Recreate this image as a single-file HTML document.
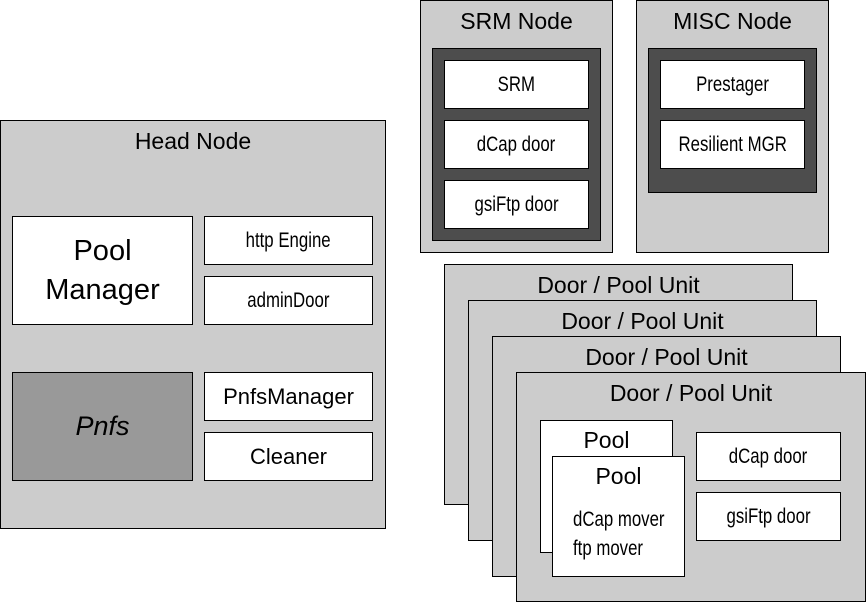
<!DOCTYPE html>
<html><head><meta charset="utf-8"><style>
body{margin:0;width:866px;height:602px;background:#fff;position:relative;overflow:hidden;font-family:"Liberation Sans",sans-serif;}
.b{position:absolute;box-sizing:border-box;border:1px solid #000;}
.g{background:#ccc;}
.d{background:#4d4d4d;}
.w{background:#fff;display:flex;align-items:center;justify-content:center;font-size:21px;}
.w span,.n{display:inline-block;transform:scaleX(0.8);white-space:nowrap;}
.t{position:absolute;left:0;right:0;text-align:center;font-size:23px;}
</style></head><body>
<div class="b g" style="left:0;top:120px;width:386px;height:409px"><div class="t" style="top:7px">Head Node</div></div>
<div class="b w" style="left:12px;top:216px;width:181px;height:109px;font-size:29px;line-height:39px;text-align:center">Pool<br>Manager</div>
<div class="b w" style="left:204px;top:216px;width:169px;height:49px"><span>http Engine</span></div>
<div class="b w" style="left:204px;top:276px;width:169px;height:49px"><span>adminDoor</span></div>
<div class="b" style="left:12px;top:372px;width:181px;height:109px;background:#999;display:flex;align-items:center;justify-content:center;font-size:27px;font-style:italic">Pnfs</div>
<div class="b w" style="left:204px;top:372px;width:169px;height:49px;font-size:22px">PnfsManager</div>
<div class="b w" style="left:204px;top:432px;width:169px;height:49px;font-size:22px">Cleaner</div>

<div class="b g" style="left:420px;top:0;width:193px;height:253px"><div class="t" style="top:7px">SRM Node</div></div>
<div class="b d" style="left:432px;top:48px;width:169px;height:193px"></div>
<div class="b w" style="left:444px;top:60px;width:145px;height:49px"><span>SRM</span></div>
<div class="b w" style="left:444px;top:120px;width:145px;height:49px"><span>dCap door</span></div>
<div class="b w" style="left:444px;top:180px;width:145px;height:49px"><span>gsiFtp door</span></div>

<div class="b g" style="left:636px;top:0;width:193px;height:253px"><div class="t" style="top:7px">MISC Node</div></div>
<div class="b d" style="left:648px;top:48px;width:169px;height:145px"></div>
<div class="b w" style="left:660px;top:60px;width:145px;height:49px"><span>Prestager</span></div>
<div class="b w" style="left:660px;top:120px;width:145px;height:49px"><span>Resilient MGR</span></div>

<div class="b g" style="left:444px;top:264px;width:349px;height:241px"><div class="t" style="top:7px">Door / Pool Unit</div></div>
<div class="b g" style="left:468px;top:300px;width:349px;height:241px"><div class="t" style="top:7px">Door / Pool Unit</div></div>
<div class="b g" style="left:492px;top:336px;width:349px;height:241px"><div class="t" style="top:7px">Door / Pool Unit</div></div>
<div class="b g" style="left:516px;top:372px;width:350px;height:230px"><div class="t" style="top:7px">Door / Pool Unit</div></div>
<div class="b" style="left:540px;top:420px;width:133px;height:133px;background:#fff"><div class="t" style="top:6px">Pool</div></div>
<div class="b" style="left:552px;top:456px;width:133px;height:121px;background:#fff"><div class="t" style="top:6px">Pool</div>
<div style="position:absolute;left:20px;top:48px;font-size:21px;line-height:29px"><span class="n" style="transform-origin:left">dCap mover</span><br><span class="n" style="transform-origin:left">ftp mover</span></div></div>
<div class="b w" style="left:696px;top:432px;width:145px;height:49px"><span>dCap door</span></div>
<div class="b w" style="left:696px;top:492px;width:145px;height:49px"><span>gsiFtp door</span></div>
</body></html>
